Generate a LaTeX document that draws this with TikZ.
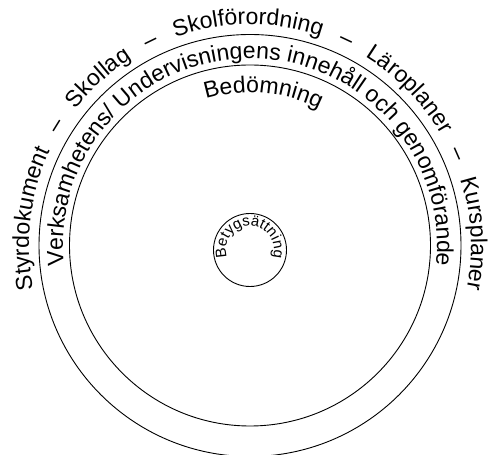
\documentclass[tikz,border=0pt]{standalone}
\usepackage{fontspec}
\setmainfont{Liberation Sans}
\usetikzlibrary{decorations.text}

\newcommand{\ringfont}{\fontsize{23}{27}\selectfont}
\newcommand{\corefont}{\fontsize{15}{17}\selectfont}

\begin{document}
\begin{tikzpicture}[x=1pt, y=1pt,
  ring/.style={circle, draw, line width=0.9pt, inner sep=0pt},
  ringtext/.style={decorate, decoration={text along path, text align=center, text={#1}}}]
\useasboundingbox (0,0) rectangle (493,455);

% Circles
\node[ring, minimum size=422pt] (outer) at (250,209.5) {};
\node[ring, minimum size=361pt] (inner) at (outer.center) {};
\node[ring, minimum size=73pt] (core) at (250,205) {};

% Outer ring: Styrdokument
\path[ringtext={|\ringfont|Styrdokument{\hspace{18pt}}–{\hspace{18pt}}Skollag{\hspace{18pt}}–{\hspace{18pt}}Skolförordning{\hspace{18pt}}–{\hspace{18pt}}Läroplaner{\hspace{18pt}}–{\hspace{18pt}}Kursplaner}]
  ([shift={(200:221)}]outer.center) arc[start angle=200, end angle=-20, radius=221];

% Middle ring: Verksamhetens
\path[ringtext={|\ringfont|Verksamhetens/ Undervisningens innehåll och genomförande}]
  ([shift={(200:187)}]outer.center) arc[start angle=200, end angle=-20, radius=187];

% Bedömning
\path[ringtext={|\ringfont|Bedömning}]
  ([shift={(125:153)}]inner.center) arc[start angle=125, end angle=45, radius=153];

% Betygsättning
\path[ringtext={|\corefont|Betygsättning}]
  ([shift={(250:24)}]core.center) arc[start angle=250, end angle=-70, radius=24];
\end{tikzpicture}
\end{document}
